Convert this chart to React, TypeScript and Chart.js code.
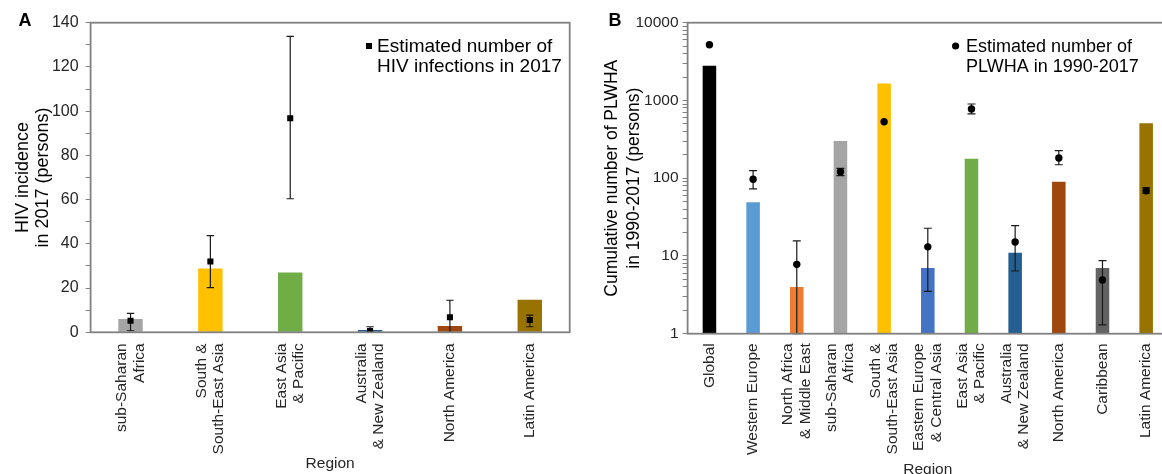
import React, { useEffect, useRef } from 'react';
import { Chart, registerables } from 'chart.js';

Chart.register(...registerables);

const FONT = '"Liberation Sans", Arial, Helvetica, sans-serif';
Chart.defaults.font.family = FONT;

// ---------- Panel A data ----------
const regionsA: string[][] = [
  ['sub-Saharan', 'Africa'],
  ['South &', 'South-East Asia'],
  ['East Asia', '& Pacific'],
  ['Australia', '& New Zealand'],
  ['North America'],
  ['Latin America'],
];
const incidenceBars = [6, 28.8, 27, 1, 2.9, 14.7];
const incidencePoints = [5.2, 32, 96.8, 0.6, 6.8, 5.6];
const incidenceLow = [0.7, 20.2, 60.4, 0, 0, 2.5];
const incidenceHigh = [8.6, 43.7, 133.8, 2.5, 14.5, 7.8];
const colorsA = ['#A5A5A5', '#FFC000', '#70AD47', '#255E91', '#9E480E', '#997300'];
const yLabelsA = [0, 20, 40, 60, 80, 100, 120, 140];
const legendA = ['Estimated number of', 'HIV infections in 2017'];
const yTitleA = ['HIV incidence', 'in 2017 (persons)'];

// ---------- Panel B data ----------
const regionsB: string[][] = [
  ['Global'],
  ['Western Europe'],
  ['North Africa', '& Middle East'],
  ['sub-Saharan', 'Africa'],
  ['South &', 'South-East Asia'],
  ['Eastern Europe', '& Central Asia'],
  ['East Asia', '& Pacific'],
  ['Australia', '& New Zealand'],
  ['North America'],
  ['Caribbean'],
  ['Latin America'],
];
const plwhaBars = [2800, 49, 4, 300, 1650, 7, 178, 11, 90, 7, 510];
const plwhaPoints = [5200, 97, 7.8, 121, 533, 13.1, 776, 15.1, 182, 4.9, 69];
const plwhaLow: (number | null)[] = [null, 73, 1, 108, null, 3.5, 670, 6.4, 149, 1.3, 64];
const plwhaHigh: (number | null)[] = [null, 125, 15.6, 134, null, 22.7, 900, 24.5, 226, 8.7, 75.5];
const colorsB = [
  '#000000', '#5B9BD5', '#ED7D31', '#A5A5A5', '#FFC000', '#4472C4',
  '#70AD47', '#255E91', '#9E480E', '#636363', '#997300',
];
const yLabelsB = [1, 10, 100, 1000, 10000];
const legendB = ['Estimated number of', 'PLWHA in 1990-2017'];
const yTitleB = ['Cumulative number of PLWHA', 'in 1990-2017 (persons)'];

const AXIS = '#808080';
const TEXT = '#262626';

type Overlay = {
  letter: string;
  letterX: number;
  legend: string[];
  legendSize: number;
  markerX: number;
  textX: number;
  marker: 'rect' | 'circle';
  lows: (number | null)[];
  highs: (number | null)[];
  cap: number;
  labels: string[][];
  labelGap: number;
  lineGap: number;
  regionY: number;
};

function overlay(o: Overlay) {
  return {
    id: 'overlay',
    afterDatasetDraw(chart: any, args: any) {
      if (args.index !== 0) return;
      const { ctx, scales } = chart;
      const x = scales.x;
      const y = scales.y;
      ctx.save();
      ctx.strokeStyle = '#1a1a1a';
      ctx.lineWidth = 1.2;
      o.lows.forEach((lo, i) => {
        const hi = o.highs[i];
        if (lo == null || hi == null) return;
        const px = x.getPixelForValue(i);
        const y1 = y.getPixelForValue(lo);
        const y2 = y.getPixelForValue(hi);
        ctx.beginPath();
        ctx.moveTo(px, y1);
        ctx.lineTo(px, y2);
        ctx.moveTo(px - o.cap, y1);
        ctx.lineTo(px + o.cap, y1);
        ctx.moveTo(px - o.cap, y2);
        ctx.lineTo(px + o.cap, y2);
        ctx.stroke();
      });
      ctx.restore();
    },
    afterDraw(chart: any) {
      const { ctx, chartArea: ca, scales } = chart;
      const x = scales.x;
      ctx.save();
      // plot box
      ctx.strokeStyle = AXIS;
      ctx.lineWidth = 1.8;
      ctx.strokeRect(ca.left, ca.top, ca.right - ca.left, ca.bottom - ca.top);
      // category labels (rotated, multi-line blocks centred on the category)
      ctx.fillStyle = TEXT;
      ctx.font = `15.5px ${FONT}`;
      o.labels.forEach((lines, i) => {
        const px = x.getPixelForValue(i);
        lines.forEach((t, j) => {
          const dx = (j - (lines.length - 1) / 2) * o.lineGap;
          ctx.save();
          ctx.translate(px + dx, ca.bottom + o.labelGap);
          ctx.rotate(-Math.PI / 2);
          ctx.textAlign = 'right';
          ctx.textBaseline = 'middle';
          ctx.fillText(t, 0, 0);
          ctx.restore();
        });
      });
      // x title
      ctx.textAlign = 'center';
      ctx.textBaseline = 'alphabetic';
      ctx.font = `15.5px ${FONT}`;
      ctx.fillText('Region', (ca.left + ca.right) / 2, o.regionY);
      // legend
      ctx.fillStyle = '#000';
      if (o.marker === 'rect') {
        ctx.fillRect(o.markerX - 3, 46 - 3, 6, 6);
      } else {
        ctx.beginPath();
        ctx.arc(o.markerX, 46, 3.6, 0, Math.PI * 2);
        ctx.fill();
      }
      ctx.font = `${o.legendSize}px ${FONT}`;
      ctx.textAlign = 'left';
      ctx.textBaseline = 'middle';
      ctx.fillText(o.legend[0], o.textX, 47);
      ctx.fillText(o.legend[1], o.textX, 67);
      // panel letter
      ctx.font = `bold 18px ${FONT}`;
      ctx.textAlign = 'center';
      ctx.fillText(o.letter, o.letterX, 21);
      ctx.restore();
    },
  };
}

function isPow10(v: number) {
  const l = Math.log10(v);
  return Math.abs(l - Math.round(l)) < 1e-9;
}

function makeConfigA(): any {
  return {
    type: 'bar',
    data: {
      labels: regionsA.map((l) => l.join(' ')),
      datasets: [
        {
          type: 'bar',
          data: incidenceBars,
          backgroundColor: colorsA,
          borderWidth: 0,
          barPercentage: 0.306,
          categoryPercentage: 1,
          order: 1,
        },
        {
          type: 'line',
          data: incidencePoints,
          showLine: false,
          pointStyle: 'rect',
          pointRadius: 4.3,
          pointBackgroundColor: '#000',
          pointBorderWidth: 0,
          order: 0,
        },
      ],
    },
    options: {
      animation: false,
      responsive: false,
      events: [],
      layout: { padding: { top: 22.7, right: 10.3, left: 0, bottom: 0 } },
      plugins: { legend: { display: false }, tooltip: { enabled: false } },
      scales: {
        x: {
          type: 'category',
          offset: true,
          grid: { display: false },
          border: { display: false },
          ticks: { display: false },
          afterFit: (s: any) => {
            s.height = 474 - 332.3;
          },
        },
        y: {
          type: 'linear',
          min: 0,
          max: 140,
          border: { display: false },
          grid: { drawOnChartArea: false, tickLength: 5, color: AXIS },
          ticks: {
            stepSize: 10,
            autoSkip: false,
            padding: 7,
            color: TEXT,
            font: { size: 16 },
            callback: (v: number) => (yLabelsA.includes(v) ? String(v) : ''),
          },
          title: {
            display: true,
            text: yTitleA,
            color: '#000',
            font: { size: 18, lineHeight: 1.1 },
            padding: { top: 13, bottom: 0 },
          },
          afterFit: (s: any) => {
            s.width = 90.6;
          },
        },
      },
    },
    plugins: [
      overlay({
        letter: 'A',
        letterX: 25,
        legend: legendA,
        legendSize: 19,
        markerX: 369,
        textX: 377,
        marker: 'rect',
        lows: incidenceLow,
        highs: incidenceHigh,
        cap: 3.7,
        labels: regionsA,
        labelGap: 11,
        lineGap: 17.4,
        regionY: 467.5,
      }),
    ],
  };
}

function makeConfigB(): any {
  return {
    type: 'bar',
    data: {
      labels: regionsB.map((l) => l.join(' ')),
      datasets: [
        {
          type: 'bar',
          data: plwhaBars,
          backgroundColor: colorsB,
          borderWidth: 0,
          barPercentage: 0.31,
          categoryPercentage: 1,
          order: 1,
        },
        {
          type: 'line',
          data: plwhaPoints,
          showLine: false,
          pointStyle: 'circle',
          pointRadius: 3.7,
          pointBackgroundColor: '#000',
          pointBorderWidth: 0,
          order: 0,
        },
      ],
    },
    options: {
      animation: false,
      responsive: false,
      events: [],
      layout: { padding: { top: 22.7, right: 12, left: 0, bottom: 0 } },
      plugins: { legend: { display: false }, tooltip: { enabled: false } },
      scales: {
        x: {
          type: 'category',
          offset: true,
          grid: { display: false },
          border: { display: false },
          ticks: { display: false },
          afterFit: (s: any) => {
            s.height = 474 - 333.7;
          },
        },
        y: {
          type: 'logarithmic',
          min: 1,
          max: 10000,
          border: { display: false },
          grid: { drawOnChartArea: false, tickLength: 5, color: AXIS },
          afterBuildTicks: (s: any) => {
            s.ticks = s.ticks.filter((t: any) => {
              const p = Math.pow(10, Math.floor(Math.log10(t.value) + 1e-9));
              const m = t.value / p;
              return Math.abs(m - Math.round(m)) < 1e-6;
            });
          },
          ticks: {
            autoSkip: false,
            padding: 4,
            color: TEXT,
            font: { size: 15.5 },
            callback: (v: number) =>
              isPow10(v) && yLabelsB.includes(Math.round(v)) ? String(Math.round(v)) : '',
          },
          title: {
            display: true,
            text: yTitleB,
            color: '#000',
            font: { size: 17.5, lineHeight: 1.25 },
            padding: { top: 21.5, bottom: 0 },
          },
          afterFit: (s: any) => {
            s.width = 107.6;
          },
        },
      },
    },
    plugins: [
      overlay({
        letter: 'B',
        letterX: 35,
        legend: legendB,
        legendSize: 18,
        markerX: 375.6,
        textX: 386,
        marker: 'circle',
        lows: plwhaLow,
        highs: plwhaHigh,
        cap: 4,
        labels: regionsB,
        labelGap: 9.6,
        lineGap: 17.4,
        regionY: 473.5,
      }),
    ],
  };
}

function ChartCanvas({ make, width, height, left }: { make: () => any; width: number; height: number; left: number }) {
  const ref = useRef<HTMLCanvasElement | null>(null);
  useEffect(() => {
    if (!ref.current) return;
    const chart = new Chart(ref.current, make());
    return () => chart.destroy();
  }, [make]);
  return (
    <canvas
      ref={ref}
      width={width}
      height={height}
      style={{ position: 'absolute', left, top: 0, width, height, display: 'block' }}
    />
  );
}

export default function App() {
  return (
    <div
      style={{
        position: 'fixed',
        left: 0,
        top: 0,
        width: 1162,
        height: 474,
        overflow: 'hidden',
        background: '#ffffff',
      }}
    >
      <ChartCanvas make={makeConfigA} width={580} height={474} left={0} />
      <ChartCanvas make={makeConfigB} width={600} height={474} left={580} />
    </div>
  );
}
